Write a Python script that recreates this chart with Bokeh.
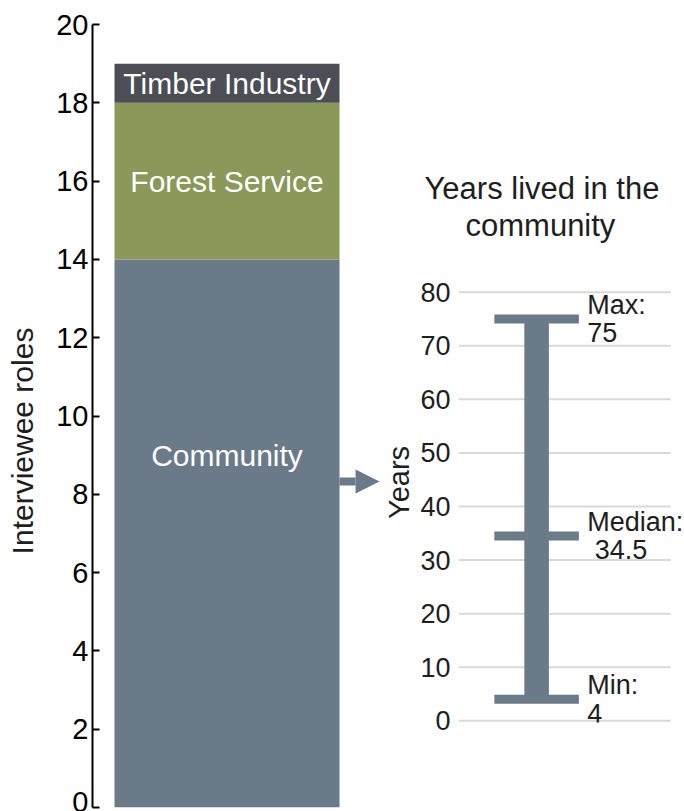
from bokeh.plotting import figure
from bokeh.layouts import row
from bokeh.models import ColumnDataSource, FixedTicker, Arrow, NormalHead, Range1d, Title
from bokeh.embed import file_html
from bokeh.resources import INLINE
from bokeh.core.properties import value

# ---------------- data ----------------
roles = ["Community", "Forest Service", "Timber Industry"]
counts = [14, 4, 1]
role_colors = ["#6b7a89", "#8a985a", "#4b4e54"]
role_ticks = [0, 2, 4, 6, 8, 10, 12, 14, 16, 18, 20]

stat_names = ["Min", "Median", "Max"]
stat_values = [4, 34.5, 75]
stat_texts = ["4", "\u00a034.5", "75"]
years_ticks = [0, 10, 20, 30, 40, 50, 60, 70, 80]
title_lines = ["Years lived in the", "community"]
title_offsets = [-34, 7]   # px from the frame's left edge

FONT = "Liberation Sans"
SLATE = "#6b7a89"
TXT = "#1e1e1e"
NB = "\u00a0"

# ---------------- left: stacked bar ----------------
bottoms, tops = [], []
acc = 0
for c in counts:
    bottoms.append(acc)
    acc += c
    tops.append(acc)
label_shift = [2, 0, 0]
label_y = [(b + t) / 2 + s for b, t, s in zip(bottoms, tops, label_shift)]

src = ColumnDataSource(dict(role=roles, bottom=bottoms, top=tops,
                            color=role_colors, ly=label_y))

p1 = figure(width=380, height=811, x_range=Range1d(-0.5978, 0.6822),
            y_range=Range1d(0, 20), output_backend="svg", toolbar_location=None,
            x_axis_location=None, min_border_left=92, min_border_right=0,
            min_border_top=24, min_border_bottom=4, frame_align=False)
p1.outline_line_color = None
p1.xgrid.visible = False
p1.ygrid.visible = False

p1.vbar(x=0, width=1, bottom="bottom", top="top", fill_color="color",
        line_color=None, source=src)
p1.text(x=0, y="ly", text="role", source=src, text_color="white",
        text_font=value(FONT), text_font_size="30px",
        text_align="center", text_baseline="middle")

ya = p1.yaxis[0]
ya.ticker = FixedTicker(ticks=role_ticks)
ya.minor_tick_line_color = None
ya.major_tick_in = 7
ya.major_tick_out = 0
ya.major_tick_line_width = 2
ya.axis_line_width = 2
ya.axis_line_color = "black"
ya.major_tick_line_color = "black"
ya.major_label_standoff = 4
ya.major_label_text_font = FONT
ya.major_label_text_font_size = "29px"
ya.major_label_text_color = "black"
ya.axis_label = "Interviewee roles" + NB * 6
ya.axis_label_standoff = 14
ya.axis_label_text_font = FONT
ya.axis_label_text_font_size = "30px"
ya.axis_label_text_font_style = "normal"
ya.axis_label_text_color = TXT

arrow_y = 8.33
p1.add_layout(Arrow(end=NormalHead(size=24, fill_color=SLATE, line_color=None),
                    x_start=0.5, y_start=arrow_y, x_end=0.678, y_end=arrow_y,
                    line_color=SLATE, line_width=8))

# ---------------- right: years range ----------------
p2 = figure(width=304, height=811, x_range=Range1d(-0.795, 1.505),
            y_range=Range1d(-0.317, 89.28), output_backend="svg",
            toolbar_location=None, x_axis_location=None, title=None,
            min_border_left=74, min_border_right=0, min_border_top=242,
            min_border_bottom=89, frame_align=False)
p2.outline_line_color = None
p2.xgrid.visible = False
p2.ygrid.visible = False

for line, off in reversed(list(zip(title_lines, title_offsets))):
    p2.add_layout(Title(text=line, align="left", offset=off, text_font=FONT,
                        text_font_size="31px", text_font_style="normal",
                        text_color=TXT, standoff=0), "above")

grid_src = ColumnDataSource(dict(y=years_ticks))
p2.segment(x0=-0.795, x1=1.365, y0="y", y1="y", source=grid_src,
           line_color="#d9d9d9", line_width=2)

p2.vbar(x=0, width=0.25, bottom=min(stat_values), top=max(stat_values),
        fill_color=SLATE, line_color=None)
stat_src = ColumnDataSource(dict(v=stat_values,
                                 t=[f"{n}:\n{s}" for n, s in zip(stat_names, stat_texts)]))
p2.segment(x0=-0.43, x1=0.43, y0="v", y1="v", source=stat_src,
           line_color=SLATE, line_width=9, line_cap="butt")
p2.text(x=0.515, y="v", text="t", source=stat_src, text_color=TXT,
        text_font=value(FONT), text_font_size="27px", text_line_height=0.95,
        text_align="left", text_baseline="middle")

yb = p2.yaxis[0]
yb.ticker = FixedTicker(ticks=years_ticks)
yb.axis_line_color = None
yb.major_tick_line_color = None
yb.minor_tick_line_color = None
yb.major_label_standoff = 2
yb.major_label_text_font = FONT
yb.major_label_text_font_size = "27px"
yb.major_label_text_color = TXT
yb.axis_label = "Years"
yb.axis_label_standoff = 2
yb.axis_label_text_font = FONT
yb.axis_label_text_font_size = "29px"
yb.axis_label_text_font_style = "normal"
yb.axis_label_text_color = TXT

layout = row(p1, p2)
open("out.html", "w").write(file_html(layout, INLINE))
